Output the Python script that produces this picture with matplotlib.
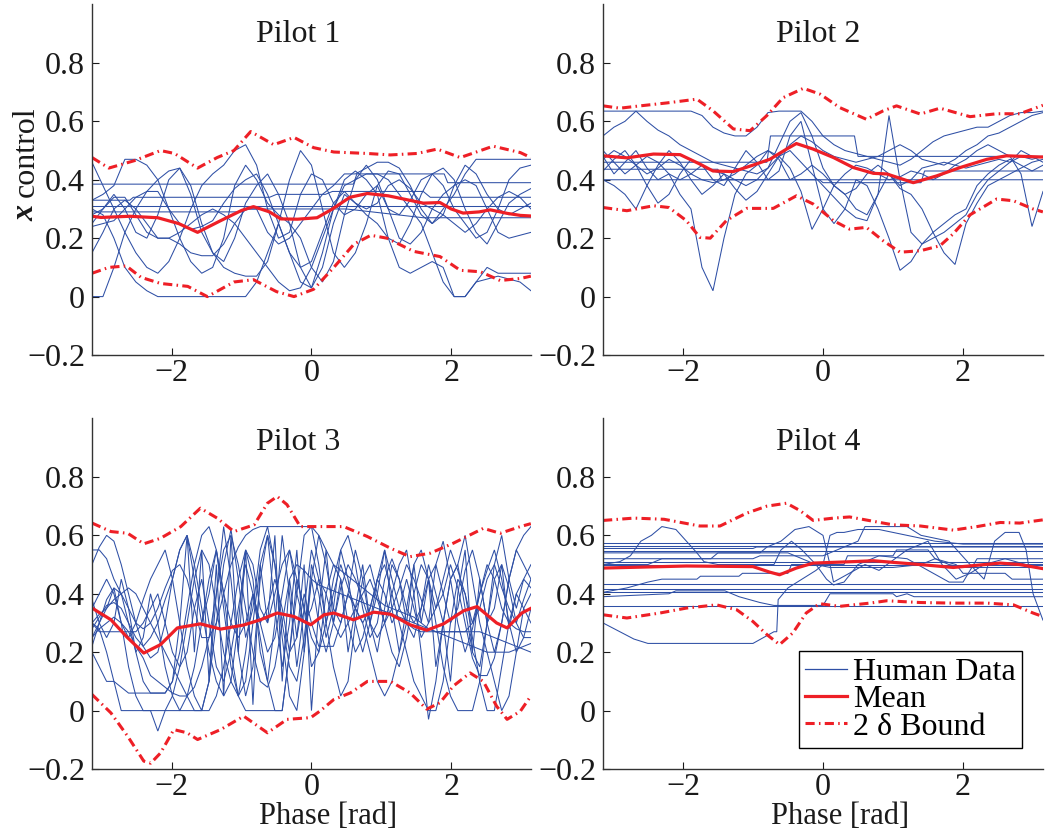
import numpy as np
import matplotlib
matplotlib.use("Agg")
import matplotlib.pyplot as plt
from matplotlib.lines import Line2D

plt.rcParams['font.family'] = ['Liberation Serif', 'DejaVu Serif']
plt.rcParams['axes.unicode_minus'] = True

BLUE = '#2e4fa5'
RED = '#ee1f26'

# ---------------- common phase grids ----------------
phase41 = np.linspace(-np.pi, np.pi, 41)
phase61 = np.linspace(-np.pi, np.pi, 61)

# ---------------- Pilot 1 ----------------
p1_mean_x = [-3.14, -3.01, -2.6, -2.2, -1.9, -1.63, -1.3, -1.0, -0.83, -0.6, -0.44, -0.2, 0.08, 0.3, 0.55, 0.8, 1.1, 1.4, 1.6, 1.84, 2.0, 2.17, 2.4, 2.56, 2.8, 2.99, 3.14]
p1_mean_y = [0.275, 0.271, 0.275, 0.27, 0.25, 0.22, 0.26, 0.295, 0.308, 0.29, 0.266, 0.265, 0.27, 0.30, 0.34, 0.353, 0.345, 0.33, 0.32, 0.322, 0.30, 0.286, 0.29, 0.297, 0.285, 0.278, 0.276]
p1_up_x = [-3.14, -2.9, -2.54, -2.16, -1.96, -1.63, -1.35, -1.11, -0.87, -0.54, -0.25, 0.03, 0.32, 0.8, 1.13, 1.51, 1.8, 2.13, 2.6, 2.99, 3.14]
p1_up_y = [0.476, 0.44, 0.465, 0.50, 0.49, 0.44, 0.476, 0.50, 0.565, 0.52, 0.545, 0.51, 0.495, 0.49, 0.485, 0.49, 0.505, 0.476, 0.515, 0.493, 0.476]
p1_lo_x = [-3.14, -2.9, -2.65, -2.44, -2.16, -1.77, -1.49, -1.11, -0.83, -0.5, -0.25, 0.03, 0.32, 0.61, 0.85, 1.08, 1.46, 1.84, 2.13, 2.42, 2.7, 2.99, 3.14]
p1_lo_y = [0.08, 0.10, 0.105, 0.066, 0.045, 0.035, 0.0, 0.05, 0.058, 0.017, 0.0, 0.025, 0.10, 0.18, 0.21, 0.20, 0.155, 0.137, 0.09, 0.085, 0.055, 0.062, 0.07]
p1_wiggle = [
    [0.46, 0.38, 0.30, 0.22, 0.15, 0.10, 0.08, 0.12, 0.20, 0.30,
     0.38, 0.42, 0.45, 0.50, 0.52, 0.45, 0.30, 0.20, 0.22, 0.35,
     0.42, 0.40, 0.32, 0.28, 0.30, 0.35, 0.38, 0.30, 0.20, 0.18,
     0.22, 0.30, 0.35, 0.38, 0.40, 0.38, 0.30, 0.22, 0.20, 0.21, 0.22],
    [0.00, 0.00, 0.10, 0.22, 0.30, 0.36, 0.40, 0.43, 0.44, 0.38,
     0.25, 0.15, 0.10, 0.08, 0.07, 0.07, 0.12, 0.25, 0.40, 0.50,
     0.45, 0.30, 0.15, 0.10, 0.15, 0.25, 0.38, 0.43, 0.42, 0.35,
     0.28, 0.25, 0.28, 0.38, 0.45, 0.42, 0.35, 0.30, 0.28, 0.30, 0.32],
    [0.30, 0.28, 0.20, 0.10, 0.05, 0.02, 0.00, 0.00, 0.00, 0.00,
     0.00, 0.00, 0.00, 0.00, 0.00, 0.05, 0.15, 0.25, 0.15, 0.05,
     0.03, 0.15, 0.30, 0.40, 0.43, 0.40, 0.35, 0.20, 0.10, 0.08,
     0.10, 0.12, 0.10, 0.00, 0.00, 0.05, 0.10, 0.08, 0.08, 0.08, 0.08],
    [0.33, 0.35, 0.38, 0.47, 0.47, 0.45, 0.40, 0.30, 0.20, 0.12,
     0.08, 0.10, 0.20, 0.38, 0.45, 0.40, 0.32, 0.28, 0.25, 0.20,
     0.10, 0.05, 0.12, 0.28, 0.40, 0.45, 0.40, 0.30, 0.28, 0.33,
     0.40, 0.42, 0.38, 0.30, 0.25, 0.20, 0.22, 0.30, 0.40, 0.44, 0.45],
    [0.25, 0.30, 0.35, 0.30, 0.22, 0.20, 0.28, 0.40, 0.44, 0.35,
     0.22, 0.15, 0.12, 0.20, 0.32, 0.38, 0.42, 0.35, 0.25, 0.10,
     0.03, 0.10, 0.25, 0.35, 0.32, 0.28, 0.25, 0.20, 0.18, 0.25,
     0.35, 0.42, 0.44, 0.40, 0.30, 0.22, 0.18, 0.25, 0.32, 0.35, 0.37],
    [0.15, 0.22, 0.30, 0.33, 0.30, 0.25, 0.20, 0.20, 0.22, 0.25,
     0.28, 0.30, 0.28, 0.25, 0.20, 0.15, 0.10, 0.05, 0.02, 0.03,
     0.10, 0.20, 0.30, 0.38, 0.40, 0.42, 0.42, 0.40, 0.35, 0.30,
     0.25, 0.15, 0.05, 0.00, 0.00, 0.05, 0.06, 0.07, 0.06, 0.05, 0.02],
    [0.28, 0.30, 0.34, 0.34, 0.28, 0.22, 0.20, 0.20, 0.18, 0.15,
     0.14, 0.14, 0.18, 0.25, 0.30, 0.30, 0.22, 0.18, 0.20, 0.25,
     0.30, 0.35, 0.38, 0.42, 0.42, 0.44, 0.46, 0.46, 0.44, 0.38,
     0.30, 0.25, 0.30, 0.35, 0.42, 0.47, 0.47, 0.47, 0.47, 0.47, 0.47],
    [0.24, 0.25, 0.26, 0.30, 0.34, 0.36, 0.36, 0.30, 0.25, 0.23,
     0.24, 0.26, 0.32, 0.37, 0.40, 0.42, 0.35, 0.25, 0.15, 0.10,
     0.12, 0.22, 0.32, 0.36, 0.32, 0.30, 0.32, 0.38, 0.40, 0.37,
     0.32, 0.30, 0.28, 0.25, 0.22, 0.25, 0.30, 0.34, 0.36, 0.34, 0.30],
]
p1_flat = [
    ([-3.14, 3.14], [0.31, 0.31]),
    ([-3.14, 0.6, 0.65, 1.9, 1.95, 3.14], [0.385, 0.385, 0.42, 0.42, 0.39, 0.39]),
    ([-3.14, -2.6, -2.55, -0.6, -0.5, 0.2, 0.3, 1.6, 1.7, 3.14], [0.33, 0.33, 0.34, 0.34, 0.35, 0.35, 0.36, 0.36, 0.34, 0.34]),
    ([-3.14, -1.0, -0.9, 0.4, 0.5, 1.6, 3.14], [0.29, 0.29, 0.30, 0.30, 0.30, 0.27, 0.27]),
]

# ---------------- Pilot 2 ----------------
p2_mean_x = [-3.14, -2.8, -2.42, -2.04, -1.76, -1.57, -1.28, -1.0, -0.76, -0.52, -0.38, -0.14, 0.15, 0.43, 0.72, 0.91, 1.29, 1.62, 1.96, 2.34, 2.62, 3.1, 3.14]
p2_mean_y = [0.482, 0.475, 0.488, 0.486, 0.454, 0.43, 0.428, 0.45, 0.47, 0.505, 0.524, 0.505, 0.476, 0.442, 0.422, 0.42, 0.39, 0.413, 0.442, 0.47, 0.482, 0.478, 0.478]
p2_up_x = [-3.14, -2.9, -2.61, -2.23, -1.8, -1.57, -1.28, -1.04, -0.8, -0.57, -0.28, -0.04, 0.24, 0.62, 0.86, 1.05, 1.39, 1.67, 2.1, 2.48, 2.81, 3.14]
p2_up_y = [0.653, 0.645, 0.653, 0.663, 0.676, 0.636, 0.574, 0.568, 0.62, 0.681, 0.713, 0.693, 0.647, 0.607, 0.636, 0.653, 0.625, 0.645, 0.616, 0.626, 0.626, 0.655]
p2_lo_x = [-3.14, -2.8, -2.42, -2.2, -1.95, -1.76, -1.61, -1.38, -1.09, -0.71, -0.38, -0.14, 0.15, 0.38, 0.62, 0.86, 1.1, 1.39, 1.67, 1.86, 2.1, 2.48, 2.72, 3.0, 3.14]
p2_lo_y = [0.305, 0.294, 0.311, 0.305, 0.26, 0.203, 0.20, 0.26, 0.302, 0.302, 0.345, 0.317, 0.26, 0.231, 0.237, 0.191, 0.152, 0.157, 0.174, 0.215, 0.28, 0.334, 0.328, 0.30, 0.29]
p2_wiggle = [
    [0.635, 0.635, 0.635, 0.635, 0.635, 0.635, 0.635, 0.635, 0.635, 0.62,
     0.58, 0.56, 0.55, 0.55, 0.58, 0.63, 0.635, 0.635, 0.635, 0.60,
     0.55, 0.52, 0.50, 0.49, 0.48, 0.47, 0.46, 0.45, 0.47, 0.50,
     0.53, 0.55, 0.56, 0.57, 0.58, 0.58, 0.60, 0.62, 0.63, 0.63, 0.635],
    [0.55, 0.58, 0.60, 0.635, 0.60, 0.57, 0.55, 0.52, 0.50, 0.48,
     0.46, 0.45, 0.44, 0.43, 0.42, 0.44, 0.48, 0.52, 0.55, 0.53,
     0.50, 0.48, 0.47, 0.46, 0.47, 0.48, 0.50, 0.52, 0.50, 0.47,
     0.46, 0.45, 0.47, 0.50, 0.52, 0.55, 0.56, 0.58, 0.60, 0.62, 0.63],
    [0.48, 0.42, 0.46, 0.50, 0.44, 0.40, 0.42, 0.35, 0.30, 0.10,
     0.02, 0.20, 0.35, 0.42, 0.45, 0.50, 0.47, 0.40, 0.42, 0.45,
     0.42, 0.38, 0.35, 0.30, 0.28, 0.35, 0.42, 0.38, 0.40, 0.44,
     0.45, 0.46, 0.45, 0.44, 0.45, 0.46, 0.47, 0.46, 0.48, 0.47, 0.48],
    [0.43, 0.47, 0.50, 0.45, 0.38, 0.32, 0.35, 0.42, 0.47, 0.45,
     0.40, 0.38, 0.44, 0.50, 0.46, 0.40, 0.43, 0.55, 0.60, 0.45,
     0.30, 0.25, 0.30, 0.40, 0.38, 0.30, 0.20, 0.09, 0.12, 0.18,
     0.22, 0.25, 0.28, 0.30, 0.38, 0.42, 0.45, 0.47, 0.45, 0.43, 0.45],
    [0.40, 0.38, 0.35, 0.30, 0.38, 0.45, 0.50, 0.46, 0.40, 0.35,
     0.38, 0.42, 0.37, 0.33, 0.36, 0.42, 0.48, 0.50, 0.46, 0.42,
     0.38, 0.34, 0.30, 0.27, 0.26, 0.35, 0.62, 0.40, 0.22, 0.18,
     0.20, 0.22, 0.25, 0.28, 0.35, 0.40, 0.43, 0.46, 0.50, 0.48, 0.46],
    [0.50, 0.46, 0.42, 0.45, 0.48, 0.46, 0.42, 0.40, 0.42, 0.45,
     0.43, 0.42, 0.40, 0.38, 0.40, 0.44, 0.52, 0.60, 0.63, 0.55,
     0.44, 0.38, 0.35, 0.37, 0.42, 0.45, 0.42, 0.37, 0.35, 0.30,
     0.22, 0.15, 0.11, 0.25, 0.32, 0.38, 0.40, 0.42, 0.44, 0.46, 0.47],
    [0.47, 0.50, 0.48, 0.45, 0.42, 0.44, 0.47, 0.45, 0.42, 0.40,
     0.39, 0.40, 0.42, 0.45, 0.48, 0.50, 0.48, 0.44, 0.36, 0.23,
     0.30, 0.38, 0.42, 0.45, 0.44, 0.42, 0.40, 0.41, 0.43, 0.42,
     0.40, 0.42, 0.45, 0.47, 0.50, 0.52, 0.50, 0.48, 0.42, 0.24, 0.36],
]
p2_flat = [
    ([-3.14, -1.5, -1.45, 3.14], [0.436, 0.436, 0.40, 0.40]),
    ([-3.14, -0.05, 0.0, 1.4, 1.45, 3.14], [0.40, 0.40, 0.39, 0.39, 0.43, 0.43]),
    ([-3.14, -0.8, -0.75, 0.45, 0.5, 3.14], [0.46, 0.46, 0.55, 0.55, 0.48, 0.48]),
]

# ---------------- Pilot 3 ----------------
p3_mean_x = [-3.14, -2.87, -2.63, -2.4, -2.16, -1.92, -1.59, -1.3, -0.97, -0.73, -0.49, -0.25, -0.01, 0.18, 0.32, 0.6, 0.89, 1.13, 1.41, 1.65, 1.89, 2.18, 2.37, 2.65, 2.8, 3.01, 3.14]
p3_mean_y = [0.351, 0.311, 0.249, 0.197, 0.226, 0.283, 0.297, 0.279, 0.293, 0.311, 0.334, 0.322, 0.294, 0.328, 0.334, 0.311, 0.337, 0.33, 0.294, 0.275, 0.297, 0.342, 0.356, 0.30, 0.283, 0.334, 0.35]
p3_up_x = [-3.14, -2.87, -2.63, -2.4, -2.16, -1.87, -1.59, -1.35, -1.11, -0.82, -0.63, -0.49, -0.35, -0.16, 0.08, 0.46, 0.8, 1.13, 1.41, 1.7, 2.03, 2.46, 2.7, 2.99, 3.14]
p3_up_y = [0.642, 0.613, 0.607, 0.571, 0.59, 0.63, 0.693, 0.659, 0.613, 0.636, 0.71, 0.733, 0.705, 0.63, 0.63, 0.63, 0.596, 0.556, 0.527, 0.539, 0.573, 0.624, 0.607, 0.63, 0.64]
p3_lo_x = [-3.14, -2.87, -2.63, -2.4, -2.3, -2.16, -1.97, -1.78, -1.63, -1.3, -0.97, -0.63, -0.35, -0.01, 0.13, 0.32, 0.56, 0.8, 1.13, 1.41, 1.65, 1.84, 2.03, 2.27, 2.46, 2.65, 2.8, 2.99, 3.14]
p3_lo_y = [0.055, -0.008, -0.088, -0.173, -0.18, -0.145, -0.065, -0.076, -0.099, -0.065, -0.019, -0.076, -0.03, -0.024, 0.0, 0.038, 0.061, 0.10, 0.10, 0.061, 0.005, 0.027, 0.084, 0.129, 0.10, 0.015, -0.03, -0.002, 0.05]
p3_wiggle = [
    [0.50, 0.56, 0.60, 0.58, 0.50, 0.40, 0.30, 0.22, 0.18, 0.20,
     0.30, 0.45, 0.55, 0.60, 0.50, 0.35, 0.20, 0.10, 0.05, 0.10,
     0.30, 0.55, 0.45, 0.20, 0.10, 0.30, 0.60, 0.40, 0.15, 0.35,
     0.55, 0.45, 0.30, 0.40, 0.50, 0.42, 0.35, 0.40, 0.45, 0.38,
     0.30, 0.35, 0.42, 0.50, 0.45, 0.38, 0.30, 0.35, 0.45, 0.55,
     0.48, 0.40, 0.30, 0.35, 0.45, 0.50, 0.42, 0.35, 0.30, 0.38, 0.45],
    [0.30, 0.28, 0.20, 0.10, 0.00, 0.00, 0.00, 0.00, 0.00, 0.00,
     0.00, 0.00, 0.00, 0.05, 0.15, 0.30, 0.45, 0.55, 0.40, 0.20,
     0.05, 0.00, 0.00, 0.00, 0.00, 0.00, 0.00, 0.20, 0.40, 0.60,
     0.63, 0.50, 0.30, 0.15, 0.05, 0.10, 0.30, 0.45, 0.50, 0.40,
     0.30, 0.20, 0.15, 0.25, 0.40, 0.50, 0.45, 0.30, 0.15, 0.05,
     0.00, 0.00, 0.00, 0.10, 0.30, 0.45, 0.50, 0.42, 0.30, 0.25, 0.25],
    [0.22, 0.30, 0.38, 0.42, 0.40, 0.35, 0.30, 0.28, 0.30, 0.35,
     0.42, 0.48, 0.50, 0.45, 0.35, 0.25, 0.25, 0.30, 0.40, 0.50,
     0.56, 0.60, 0.62, 0.63, 0.63, 0.63, 0.63, 0.63, 0.63, 0.63,
     0.63, 0.60, 0.55, 0.50, 0.48, 0.46, 0.44, 0.42, 0.40, 0.38,
     0.36, 0.35, 0.34, 0.33, 0.32, 0.30, 0.28, 0.27, 0.27, 0.27,
     0.27, 0.27, 0.27, 0.27, 0.26, 0.25, 0.24, 0.23, 0.22, 0.21, 0.20],
    [0.38, 0.30, 0.25, 0.30, 0.45, 0.35, 0.20, 0.10, 0.06, 0.06,
     0.06, 0.10, 0.30, 0.60, 0.20, 0.55, 0.10, 0.50, 0.05, 0.60,
     0.20, 0.55, 0.02, 0.50, 0.30, 0.60, 0.10, 0.45, 0.25, 0.50,
     0.00, 0.35, 0.55, 0.30, 0.45, 0.20, 0.35, 0.50, 0.30, 0.40,
     0.55, 0.35, 0.20, 0.30, 0.50, 0.30, 0.45, 0.15, 0.30, 0.10,
     0.40, 0.55, 0.20, 0.45, 0.30, 0.35, 0.50, 0.28, 0.40, 0.35, 0.30],
    [0.55, 0.55, 0.52, 0.45, 0.40, 0.30, 0.20, 0.25, 0.40, 0.30,
     0.15, 0.05, 0.00, 0.00, 0.00, 0.00, 0.10, 0.40, 0.63, 0.45,
     0.20, 0.05, 0.15, 0.45, 0.60, 0.35, 0.15, 0.30, 0.55, 0.20,
     0.45, 0.60, 0.50, 0.35, 0.30, 0.40, 0.55, 0.45, 0.30, 0.20,
     0.35, 0.50, 0.45, 0.30, 0.25, 0.35, 0.50, 0.40, 0.30, 0.45,
     0.50, 0.35, 0.20, 0.15, 0.30, 0.50, 0.60, 0.45, 0.35, 0.45, 0.50],
    [0.30, 0.27, 0.27, 0.27, 0.27, 0.27, 0.27, 0.30, 0.35, 0.40,
     0.30, 0.20, 0.15, 0.20, 0.35, 0.45, 0.30, 0.15, 0.10, 0.20,
     0.35, 0.50, 0.40, 0.30, 0.35, 0.45, 0.35, 0.20, 0.25, 0.40,
     0.30, 0.22, 0.22, 0.22, 0.30, 0.40, 0.35, 0.30, 0.35, 0.45,
     0.55, 0.45, 0.35, 0.30, 0.28, 0.27, 0.27, 0.27, 0.27, 0.27,
     0.27, 0.27, 0.30, 0.40, 0.50, 0.45, 0.35, 0.30, 0.28, 0.27, 0.27],
    [0.25, 0.30, 0.35, 0.42, 0.30, 0.15, 0.05, 0.00, 0.00, -0.07,
     0.00, 0.05, 0.15, 0.30, 0.45, 0.55, 0.50, 0.35, 0.20, 0.10,
     0.05, 0.20, 0.40, 0.25, 0.10, 0.00, 0.00, 0.20, 0.45, 0.35,
     0.15, 0.20, 0.40, 0.50, 0.45, 0.30, 0.20, 0.25, 0.35, 0.45,
     0.50, 0.40, 0.30, 0.20, 0.10, 0.05, 0.00, 0.00, 0.10, 0.30,
     0.45, 0.40, 0.25, 0.10, 0.00, 0.00, 0.15, 0.30, 0.40, 0.45, 0.42],
    [0.28, 0.32, 0.36, 0.37, 0.35, 0.30, 0.25, 0.22, 0.25, 0.30,
     0.38, 0.45, 0.55, 0.60, 0.45, 0.30, 0.40, 0.55, 0.35, 0.15,
     0.05, 0.10, 0.30, 0.50, 0.60, 0.50, 0.30, 0.15, 0.10, 0.25,
     0.45, 0.30, 0.20, 0.30, 0.42, 0.50, 0.45, 0.38, 0.30, 0.25,
     0.30, 0.40, 0.50, 0.55, 0.40, 0.20, -0.03, 0.10, 0.30, 0.45,
     0.50, 0.60, 0.45, 0.30, 0.20, 0.10, 0.00, 0.05, 0.20, 0.35, 0.40],
    [0.20, 0.15, 0.10, 0.10, 0.08, 0.06, 0.06, 0.06, 0.06, 0.06,
     0.06, 0.10, 0.20, 0.35, 0.50, 0.60, 0.63, 0.55, 0.40, 0.30,
     0.25, 0.30, 0.40, 0.30, 0.20, 0.25, 0.40, 0.55, 0.40, 0.30,
     0.35, 0.45, 0.40, 0.30, 0.25, 0.30, 0.35, 0.30, 0.20, 0.10,
     0.05, 0.10, 0.20, 0.35, 0.50, 0.55, 0.45, 0.35, 0.40, 0.50,
     0.42, 0.30, 0.18, 0.12, 0.12, 0.18, 0.30, 0.45, 0.55, 0.50, 0.45],
    [0.35, 0.40, 0.45, 0.40, 0.30, 0.25, 0.30, 0.38, 0.45, 0.50,
     0.55, 0.45, 0.30, 0.15, 0.05, 0.00, 0.10, 0.30, 0.50, 0.62,
     0.45, 0.25, 0.35, 0.55, 0.63, 0.50, 0.25, 0.05, 0.00, 0.20,
     0.50, 0.40, 0.25, 0.35, 0.55, 0.45, 0.30, 0.20, 0.30, 0.45,
     0.40, 0.30, 0.35, 0.45, 0.35, 0.25, 0.30, 0.50, 0.58, 0.45,
     0.30, 0.20, 0.28, 0.40, 0.48, 0.55, 0.45, 0.30, 0.20, 0.25, 0.35],
    [0.30, 0.33, 0.35, 0.38, 0.40, 0.42, 0.40, 0.35, 0.30, 0.25,
     0.20, 0.15, 0.10, 0.05, 0.00, 0.00, 0.00, 0.05, 0.15, 0.30,
     0.45, 0.55, 0.50, 0.35, 0.30, 0.40, 0.50, 0.55, 0.45, 0.35,
     0.25, 0.20, 0.30, 0.45, 0.55, 0.60, 0.50, 0.35, 0.25, 0.30,
     0.45, 0.52, 0.45, 0.35, 0.30, 0.35, 0.45, 0.50, 0.40, 0.30,
     0.35, 0.48, 0.55, 0.45, 0.30, 0.20, 0.30, 0.45, 0.55, 0.60, 0.63],
    [0.25, 0.28, 0.30, 0.32, 0.30, 0.27, 0.22, 0.18, 0.12, 0.10,
     0.08, 0.06, 0.05, 0.05, 0.08, 0.15, 0.25, 0.40, 0.55, 0.60,
     0.50, 0.35, 0.20, 0.10, 0.08, 0.15, 0.30, 0.45, 0.50, 0.48,
     0.45, 0.43, 0.42, 0.41, 0.40, 0.39, 0.38, 0.37, 0.36, 0.35,
     0.34, 0.33, 0.32, 0.31, 0.30, 0.29, 0.28, 0.27, 0.26, 0.25,
     0.24, 0.23, 0.22, 0.21, 0.20, 0.20, 0.20, 0.20, 0.21, 0.22, 0.23],
]

# ---------------- Pilot 4 ----------------
p4_mean_x = [-3.14, -1.95, -1.0, -0.76, -0.62, -0.38, -0.14, 0.43, 0.72, 1.39, 1.86, 2.53, 2.81, 3.14]
p4_mean_y = [0.488, 0.495, 0.493, 0.474, 0.465, 0.488, 0.505, 0.51, 0.513, 0.50, 0.49, 0.505, 0.50, 0.486]
p4_up_x = [-3.14, -2.7, -2.27, -1.76, -1.47, -1.09, -0.8, -0.52, -0.33, -0.14, 0.15, 0.38, 0.72, 1.0, 1.39, 1.86, 2.2, 2.53, 2.81, 3.14]
p4_up_y = [0.651, 0.659, 0.655, 0.632, 0.632, 0.676, 0.70, 0.71, 0.685, 0.651, 0.659, 0.663, 0.648, 0.636, 0.632, 0.618, 0.63, 0.644, 0.642, 0.653]
p4_lo_x = [-3.14, -2.8, -2.33, -1.95, -1.52, -1.23, -1.0, -0.8, -0.62, -0.43, -0.24, -0.05, 0.24, 0.67, 0.91, 1.39, 1.86, 2.34, 2.72, 3.0, 3.14]
p4_lo_y = [0.328, 0.317, 0.334, 0.351, 0.362, 0.345, 0.305, 0.26, 0.226, 0.266, 0.334, 0.366, 0.357, 0.368, 0.376, 0.37, 0.368, 0.368, 0.362, 0.334, 0.322]
p4_traces = [
    ([-3.14, 3.14], [0.575, 0.575]),
    ([-3.14, 3.14], [0.565, 0.565]),
    ([-3.14, -1.0, -0.95, 3.14], [0.555, 0.555, 0.56, 0.56]),
    ([-3.14, 3.14], [0.548, 0.548]),
    ([-3.14, 3.14], [0.51, 0.51]),
    ([-3.14, 3.14], [0.50, 0.50]),
    ([-3.14, 3.14], [0.435, 0.435]),
    ([-3.14, 3.14], [0.418, 0.418]),
    ([-3.14, 3.14], [0.405, 0.405]),
    ([-3.14, 3.14], [0.358, 0.358]),
    ([-3.14, -2.9, -2.75, -2.6, -2.45, -2.3, -2.1, -1.95, -1.8, -1.7, -1.5, -1.0, -0.7, -0.6, -0.45, -0.3, -0.1, 0.1, 0.4, 1.0, 1.4, 1.6, 1.8, 2.0, 2.5, 3.14],
     [0.5, 0.51, 0.53, 0.58, 0.6, 0.63, 0.62, 0.58, 0.54, 0.51, 0.5, 0.5, 0.5, 0.55, 0.58, 0.55, 0.5, 0.49, 0.49, 0.49, 0.5, 0.52, 0.5, 0.49, 0.49, 0.49]),
    ([-3.14, -2.8, -2.5, -2.3, -1.8, -1.75, -1.2, -1.15, -0.5, -0.45, 0.3, 0.35, 1.0, 1.05, 1.5, 1.6, 1.9, 2.0, 2.6, 2.7, 3.14],
     [0.405, 0.42, 0.44, 0.45, 0.45, 0.46, 0.46, 0.47, 0.47, 0.5, 0.5, 0.53, 0.53, 0.55, 0.55, 0.52, 0.5, 0.47, 0.47, 0.45, 0.45]),
    ([-3.14, -2.9, -2.7, -2.5, -2.0, -1.5, -1.0, -0.85, -0.7, -0.66, -0.64, -0.5, -0.3, -0.1, 0.0, 0.05, 0.1, 0.2, 0.3, 0.5, 0.8, 1.2, 1.6, 2.0, 2.5, 3.14],
     [0.3, 0.27, 0.245, 0.23, 0.23, 0.23, 0.23, 0.25, 0.27, 0.27, 0.38, 0.42, 0.45, 0.48, 0.5, 0.55, 0.6, 0.61, 0.61, 0.62, 0.62, 0.6, 0.58, 0.57, 0.57, 0.57]),
    ([-3.14, -2.5, -2.3, -1.6, -1.5, -0.9, -0.8, -0.6, -0.4, -0.2, 0.0, 0.1, 0.15, 0.3, 0.6, 0.8, 1.2, 1.5, 1.7, 1.9, 2.1, 2.3, 2.6, 2.9, 3.14],
     [0.5, 0.5, 0.52, 0.52, 0.54, 0.54, 0.56, 0.58, 0.62, 0.63, 0.6, 0.5, 0.44, 0.46, 0.5, 0.48, 0.55, 0.58, 0.5, 0.45, 0.47, 0.5, 0.52, 0.5, 0.5]),
    ([-3.14, -1.0, -0.9, 0.0, 0.2, 0.5, 0.6, 1.2, 1.4, 1.8, 2.1, 2.3, 2.45, 2.6, 2.8, 2.9, 3.0, 3.14],
     [0.52, 0.52, 0.53, 0.53, 0.55, 0.58, 0.63, 0.63, 0.6, 0.58, 0.5, 0.45, 0.58, 0.61, 0.61, 0.55, 0.4, 0.31]),
    ([-3.14, -2.2, -2.1, -1.4, -1.2, -0.9, -0.7, 0.0, 0.1, 1.0, 1.05, 1.2, 1.3, 3.14],
     [0.39, 0.4, 0.41, 0.41, 0.39, 0.37, 0.36, 0.36, 0.4, 0.4, 0.39, 0.4, 0.39, 0.39]),
    ([-3.14, -0.5, -0.3, -0.1, 0.05, 0.15, 0.3, 0.5, 0.8, 1.2, 1.5, 1.8, 2.0, 2.2, 3.14],
     [0.54, 0.54, 0.52, 0.5, 0.45, 0.43, 0.44, 0.5, 0.53, 0.52, 0.48, 0.44, 0.44, 0.52, 0.52]),
]

titles = ['Pilot 1', 'Pilot 2', 'Pilot 3', 'Pilot 4']
yticks = [-0.2, 0, 0.2, 0.4, 0.6, 0.8]
ytick_labels = ['\u22120.2', '0', '0.2', '0.4', '0.6', '0.8']
xticks = [-2, 0, 2]
xtick_labels = ['\u22122', '0', '2']

FS = 22
BOUND_LS = (0, (3.0, 1.4, 0.5, 1.4))

fig = plt.figure(figsize=(10.51, 8.33), dpi=100)
positions = [
    [0.0875, 0.5738, 0.4177, 0.4208],
    [0.5737, 0.5738, 0.4187, 0.4208],
    [0.0875, 0.0768, 0.4177, 0.4208],
    [0.5737, 0.0768, 0.4187, 0.4208],
]
title_pos = [(0.469, 0.894), (0.488, 0.894), (0.470, 0.910), (0.488, 0.910)]

panels = []
panels.append(dict(
    traces=[(phase41, w) for w in p1_wiggle] + p1_flat,
    mean=(p1_mean_x, p1_mean_y), up=(p1_up_x, p1_up_y), lo=(p1_lo_x, p1_lo_y)))
panels.append(dict(
    traces=[(phase41, w) for w in p2_wiggle] + p2_flat,
    mean=(p2_mean_x, p2_mean_y), up=(p2_up_x, p2_up_y), lo=(p2_lo_x, p2_lo_y)))
panels.append(dict(
    traces=[(phase61, w) for w in p3_wiggle],
    mean=(p3_mean_x, p3_mean_y), up=(p3_up_x, p3_up_y), lo=(p3_lo_x, p3_lo_y)))
panels.append(dict(
    traces=p4_traces,
    mean=(p4_mean_x, p4_mean_y), up=(p4_up_x, p4_up_y), lo=(p4_lo_x, p4_lo_y)))

axes = []
for k, (pos, pan) in enumerate(zip(positions, panels)):
    ax = fig.add_axes(pos)
    axes.append(ax)
    for tx, ty in pan['traces']:
        ax.plot(tx, ty, color=BLUE, lw=0.75, solid_joinstyle='miter')
    ax.plot(*pan['up'], color=RED, lw=2.2, ls=BOUND_LS)
    ax.plot(*pan['lo'], color=RED, lw=2.2, ls=BOUND_LS)
    ax.plot(*pan['mean'], color=RED, lw=2.3)
    ax.set_xlim(-np.pi, np.pi)
    ax.set_ylim(-0.2, 1.0)
    ax.set_xticks(xticks)
    ax.set_xticklabels(xtick_labels)
    ax.set_yticks(yticks)
    ax.set_yticklabels(ytick_labels)
    for s in ['top', 'right']:
        ax.spines[s].set_visible(False)
    for s in ['left', 'bottom']:
        ax.spines[s].set_linewidth(1.0)
        ax.spines[s].set_color('#333333')
    ax.tick_params(direction='in', length=5, width=0.8, labelsize=FS + 1, pad=3,
                   colors='#1a1a1a')
    ax.tick_params(axis='y', pad=5)
    ax.text(title_pos[k][0], title_pos[k][1], titles[k], transform=ax.transAxes,
            ha='center', va='baseline', fontsize=FS + 1, color='#1a1a1a')
    if k >= 2:
        ax.text(0.538, -0.135, 'Phase [rad]', transform=ax.transAxes,
                ha='center', va='center', fontsize=FS, color='#1a1a1a')

# y label "x control" on first panel
fig.text(0.0247, 0.8175, 'control', rotation=90, ha='center', va='center',
         fontsize=FS + 1, color='#1a1a1a')
fig.text(0.0247, 0.7437, 'x', rotation=90, ha='center', va='center',
         fontsize=FS + 1, fontweight='bold', style='italic', color='#1a1a1a')

# legend
handles = [Line2D([], [], color=BLUE, lw=0.9),
           Line2D([], [], color=RED, lw=2.3),
           Line2D([], [], color=RED, lw=2.2, ls=BOUND_LS)]
labels = ['Human Data', 'Mean', '2 \u03b4 Bound']
leg = axes[3].legend(handles, labels, loc='lower left', bbox_to_anchor=(0.445, 0.06),
                     borderaxespad=0, fontsize=FS + 1, frameon=True, fancybox=False,
                     edgecolor='black', framealpha=1, handlelength=1.3,
                     handletextpad=0.2, borderpad=0.2, labelspacing=-0.06)
leg.get_frame().set_linewidth(1.0)

fig.savefig('out.png', dpi=100)
